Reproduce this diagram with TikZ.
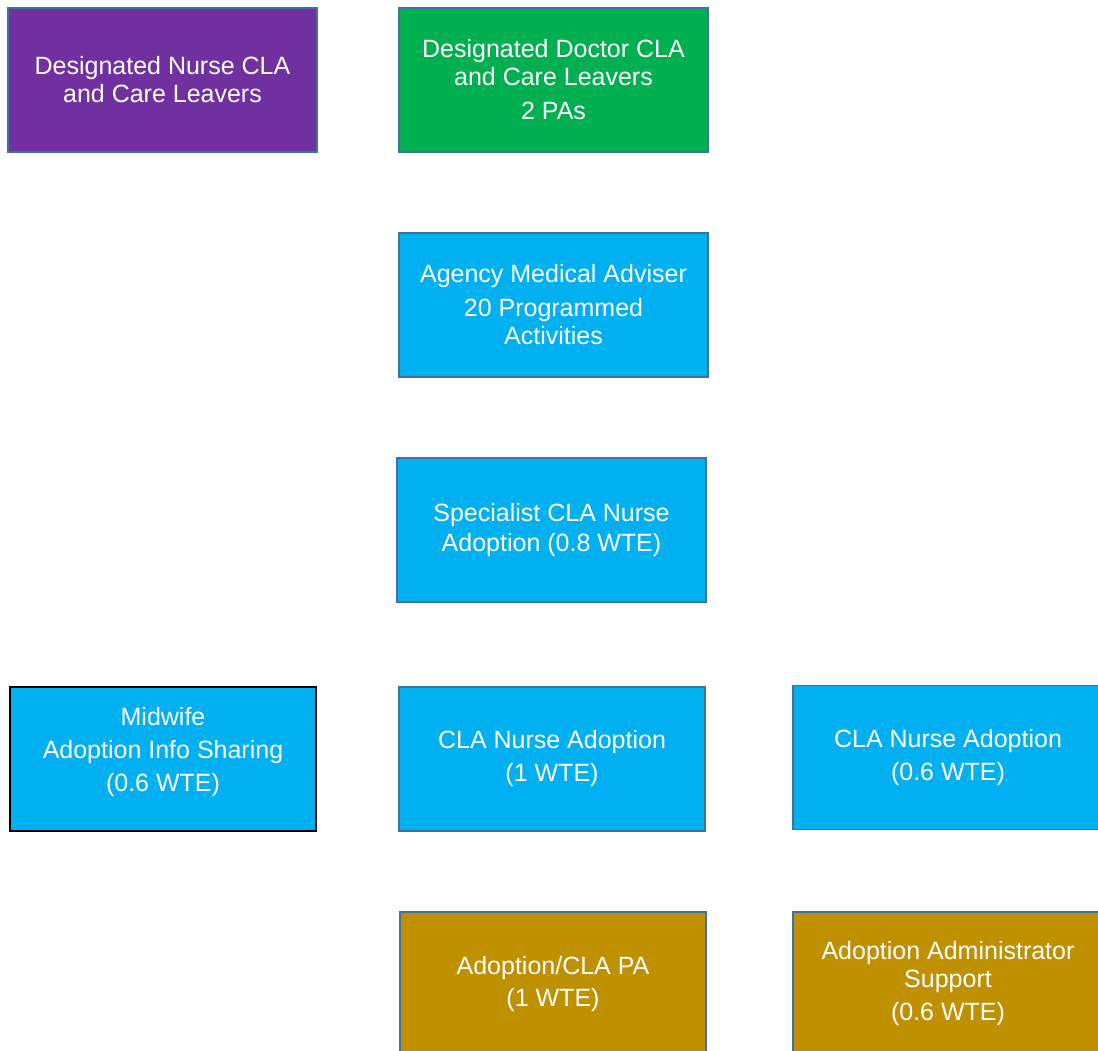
\documentclass[tikz,border=0pt]{standalone}
\usepackage{fontspec}
\setmainfont{Liberation Sans}
\definecolor{cpurple}{HTML}{7030A0}
\definecolor{cgreen}{HTML}{00B050}
\definecolor{ccyan}{HTML}{00B0F0}
\definecolor{cgold}{HTML}{BF9000}
\definecolor{cedge}{HTML}{41719C}
\begin{document}
\begin{tikzpicture}[x=1pt,y=-1pt,
  box/.style={draw=cedge, line width=1.3pt, rectangle, text=white, align=center,
    font=\fontsize{25}{28}\selectfont, inner sep=0pt},
  txt/.style={text=white, align=center, font=\fontsize{25}{28}\selectfont, inner sep=0pt},
  w309/.style={minimum width=309pt, minimum height=144pt}]
\useasboundingbox (0,0) rectangle (1098,1050);
\clip (0,0) rectangle (1098,1050);
\node[box, w309, fill=cpurple] (nurse) at (162.5,80) {Designated Nurse CLA\\and Care Leavers};
\node[box, w309, fill=cgreen] (doctor) at (553.5,80) {Designated Doctor CLA\\and Care Leavers\\[6pt]2 PAs};
\node[box, w309, fill=ccyan] (agency) at (553.5,305) {Agency Medical Adviser\\[6pt]20 Programmed\\Activities};
\node[box, w309, fill=ccyan] (spec) at (551.5,530) {Specialist CLA Nurse\\[2pt]Adoption (0.8 WTE)};
\node[box, minimum width=306pt, minimum height=144pt, fill=ccyan, draw=black] (midwife) at (163,759) {};
\node[txt] (midwifetext) at (163,752) {Midwife\\[5pt]Adoption Info Sharing\\[5pt](0.6 WTE)};
\node[box, minimum width=306pt, minimum height=144pt, fill=ccyan] (clanurse1) at (552,759) {CLA Nurse Adoption\\[5pt](1 WTE)};
\node[box, minimum width=310pt, minimum height=144pt, fill=ccyan] (clanurse2) at (948,757.5) {CLA Nurse Adoption\\[5pt](0.6 WTE)};
\node[box, minimum width=306pt, minimum height=144pt, fill=cgold] (pa) at (553,984) {Adoption/CLA PA\\[4pt](1 WTE)};
\node[box, minimum width=310pt, minimum height=144pt, fill=cgold] (admin) at (948,984) {Adoption Administrator\\Support\\[5pt](0.6 WTE)};
\end{tikzpicture}
\end{document}
